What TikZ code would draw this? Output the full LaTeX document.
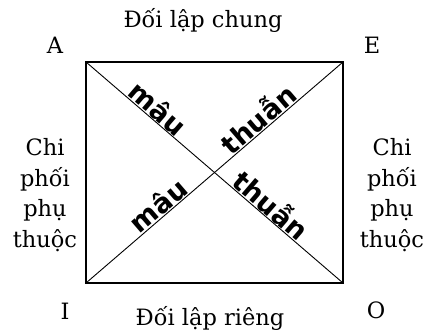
\documentclass[tikz,border=0pt]{standalone}
\usepackage{fontspec}
\setmainfont{DejaVu Serif}
\newfontfamily\boldsans{DejaVu Sans Bold}
\begin{document}
\begin{tikzpicture}[x=1pt,y=1pt,
  lbl/.style={font=\fontsize{22.5}{26}\selectfont, inner sep=0pt},
  side/.style={font=\fontsize{22.5}{30.5}\selectfont, align=center, inner sep=0pt},
  diag/.style={font=\boldsans\fontsize{27}{30}\selectfont, sloped, above, inner sep=0.5pt}]
\useasboundingbox (0,0) rectangle (428,332);
\coordinate (A) at (86,270);
\coordinate (E) at (343,270);
\coordinate (I) at (86,49);
\coordinate (O) at (343,49);
\draw[line width=1.3pt] (A) -- (E) -- (O) -- (I) -- cycle;
\draw[line width=0.9pt] (A) -- node[diag, pos=0.25] (m1) {mâu} node[diag, pos=0.69] (t2) {thuẫn} (O);
\draw[line width=0.9pt] (I) -- node[diag, pos=0.31] (m2) {mâu} node[diag, pos=0.70] (t1) {thuẫn} (E);
\node[lbl] (la) at (55,287) {A};
\node[lbl] (le) at (372,287) {E};
\node[lbl] (li) at (65,21) {I};
\node[lbl] (lo) at (376,22) {O};
\node[lbl] (top) at (203,312) {Đối lập chung};
\node[lbl] (bot) at (210,14) {Đối lập riêng};
\node[side] (left) at (45,137) {Chi\\phối\\phụ\\thuộc};
\node[side] (right) at (392,137) {Chi\\phối\\phụ\\thuộc};
\end{tikzpicture}
\end{document}
